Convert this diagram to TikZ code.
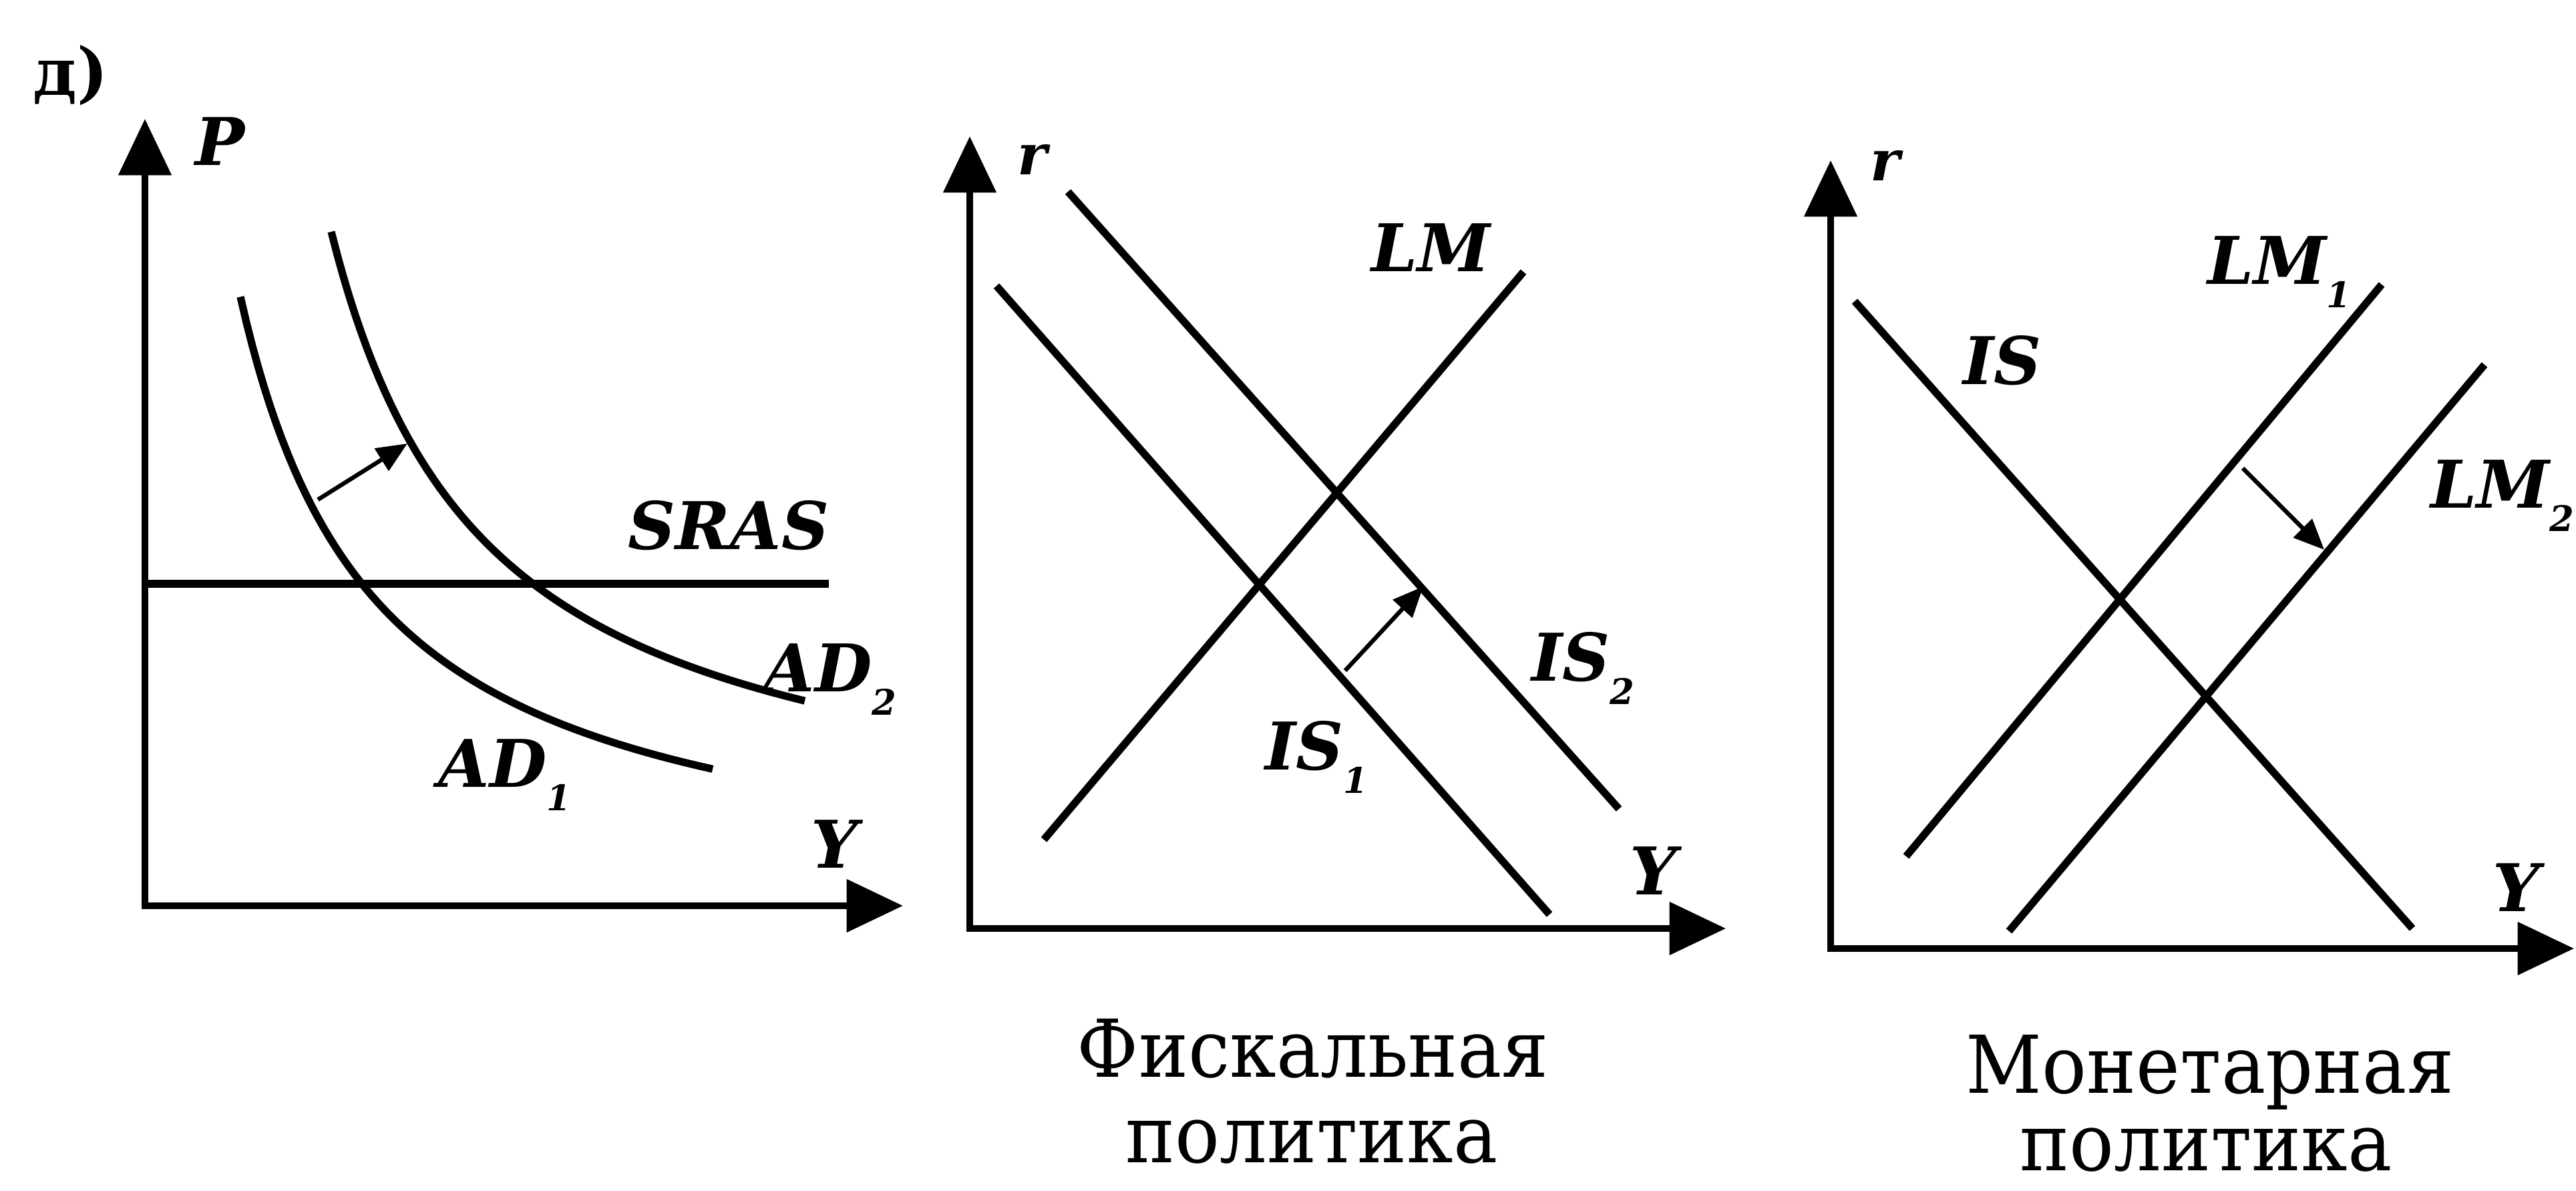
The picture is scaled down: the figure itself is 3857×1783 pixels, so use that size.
\documentclass[tikz,border=0pt]{standalone}
\usepackage{fontspec}
\usepackage{graphicx}
\setmainfont{DejaVu Serif}
\usetikzlibrary{arrows.meta}
\newcommand{\lsub}[1]{\raisebox{-0.35em}{\fontsize{15}{15}\selectfont #1}}
\newcommand{\captxt}[1]{\scalebox{0.93}[1]{#1}}
\begin{document}
\begin{tikzpicture}[x=0.01cm,y=-0.01cm,
 axis2/.style={line width=3pt,line join=miter,{Triangle[length=24pt,width=22pt]}-{Triangle[length=24pt,width=22pt]}},
 crv/.style={line width=3.2pt},
 shiftarrow/.style={line width=1.8pt,-{Triangle[length=13pt,width=11pt]}},
 lbl/.style={inner sep=0pt,anchor=base west,font=\fontsize{28}{28}\selectfont\bfseries\itshape},
 slbl/.style={lbl,font=\fontsize{24}{24}\selectfont\bfseries\itshape},
 captext/.style={inner sep=0pt,anchor=base,font=\fontsize{34}{34}\selectfont}]
\path[use as bounding box,fill=white] (0,0) rectangle (3857,1783);

% ---------- panel 1 ----------
\node[lbl,font=\fontsize{28}{28}\selectfont\bfseries] (dlabel) at (49,143) {д)};
\coordinate (O1) at (217,1356);
\coordinate (P1) at (217,178);
\coordinate (X1) at (1352,1356);
\draw[axis2] (P1) -- (O1) -- (X1);
\node[lbl] (Plab) at (292,248) {P};
\node[lbl] (Y1lab) at (1214,1300) {Y};
\coordinate (s1) at (217,874);
\coordinate (s2) at (1241,874);
\draw[crv] (s1) -- (s2);
\node[lbl,anchor=base] (SRASlab) at (1091,823) {SRAS};
\draw[crv] plot[domain=360:1067,samples=80] ({\x},{1354.8-1852.7/((\x-156.5)/100)});
\draw[crv] plot[domain=496:1205,samples=80] ({\x},{1279.6-2169.38/((\x-263.4)/100)});
\node[lbl] (AD1lab) at (656,1179) {AD\lsub{1}};
\node[lbl] (AD2lab) at (1143,1036) {AD\lsub{2}};
\coordinate (a1) at (476,748);
\coordinate (a2) at (610,664);
\draw[shiftarrow] (a1) -- (a2);

% ---------- panel 2 ----------
\coordinate (O2) at (1452,1390);
\coordinate (R2) at (1452,204);
\coordinate (X2) at (2584,1390);
\draw[axis2] (R2) -- (O2) -- (X2);
\node[slbl] (r2lab) at (1523,262) {r};
\node[lbl] (Y2lab) at (2440,1340) {Y};
\coordinate (is1a) at (1492,428);
\coordinate (is1b) at (2320,1369);
\draw[crv] (is1a) -- (is1b);
\coordinate (is2a) at (1599,287);
\coordinate (is2b) at (2424,1211);
\draw[crv] (is2a) -- (is2b);
\coordinate (lma) at (1563,1257);
\coordinate (lmb) at (2281,407);
\draw[crv] (lma) -- (lmb);
\node[lbl] (LMlab) at (2053,407) {LM};
\node[lbl] (IS1lab) at (1894,1153) {IS\lsub{1}};
\node[lbl] (IS2lab) at (2293,1020) {IS\lsub{2}};
\coordinate (b1) at (2014,1004);
\coordinate (b2) at (2131,878);
\draw[shiftarrow] (b1) -- (b2);

% ---------- panel 3 ----------
\coordinate (O3) at (2741,1420);
\coordinate (R3) at (2741,240);
\coordinate (X3) at (3854,1420);
\draw[axis2] (R3) -- (O3) -- (X3);
\node[slbl] (r3lab) at (2800,271) {r};
\node[lbl] (Y3lab) at (3732,1364) {Y};
\coordinate (isa) at (2777,451);
\coordinate (isb) at (3612,1390);
\draw[crv] (isa) -- (isb);
\coordinate (lm1a) at (2854,1282);
\coordinate (lm1b) at (3566,426);
\draw[crv] (lm1a) -- (lm1b);
\coordinate (lm2a) at (3008,1394);
\coordinate (lm2b) at (3720,546);
\draw[crv] (lm2a) -- (lm2b);
\node[lbl] (ISlab) at (2939,576) {IS};
\node[lbl] (LM1lab) at (3305,426) {LM\lsub{1}};
\node[lbl] (LM2lab) at (3639,761) {LM\lsub{2}};
\coordinate (c1) at (3358,701);
\coordinate (c2) at (3480,823);
\draw[shiftarrow] (c1) -- (c2);

% ---------- captions ----------
\node[captext] (fisc1) at (1966,1612) {\captxt{Фискальная}};
\node[captext] (fisc2) at (1964,1740) {\captxt{политика}};
\node[captext] (mon1) at (3309,1636) {\captxt{Монетарная}};
\node[captext] (mon2) at (3303,1752) {\captxt{политика}};
\end{tikzpicture}
\end{document}
